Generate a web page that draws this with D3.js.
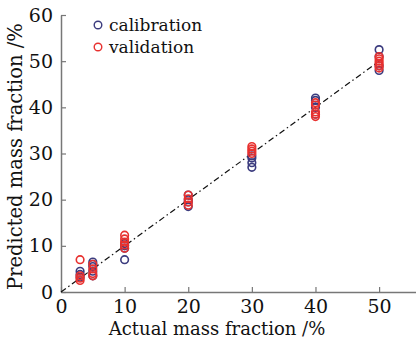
<!DOCTYPE html>
<html>
<head>
<meta charset="utf-8">
<script src="https://cdn.jsdelivr.net/npm/d3@7"></script>
<style>
  body { margin: 0; background: #fff; }
  text { font-family: "DejaVu Serif", "Liberation Serif", serif; }
</style>
</head>
<body>
<div id="chart"></div>
<script>
// Actual concentration levels and predicted values per level
const levels = [3, 5, 10, 20, 30, 40, 50];
const calibrationPred = [
    [4.5, 3.8, 3.2],
    [6.5, 6.0, 5.5, 4.5, 3.5],
    [10.5, 10.0, 9.5, 7.0],
    [21.0, 20.0, 19.5, 18.5],
    [29.5, 29.0, 28.0, 27.0],
    [42.0, 41.5, 40.0, 38.5],
    [52.5, 51.0, 49.0, 48.0]
];
const validationPred = [
    [7.0, 3.5, 3.0, 2.5],
    [6.0, 5.0, 4.0, 3.5],
    [12.3, 11.5, 10.8, 10.2, 9.5],
    [21.0, 20.2, 19.5, 18.8],
    [31.5, 31.0, 30.5, 30.0],
    [41.0, 40.5, 39.0, 38.5, 38.0],
    [51.0, 50.5, 50.0, 49.5, 49.0, 48.5]
];
const xTicks = [0, 10, 20, 30, 40, 50];
const yTicks = [0, 10, 20, 30, 40, 50, 60];
const seriesNames = ['calibration', 'validation'];
const seriesColors = ['#3b3b7e', '#e8312f'];

const W = 416, H = 343;
const margin = { top: 15, right: 0, bottom: 51, left: 61 };
const width = W - margin.left - margin.right;
const height = H - margin.top - margin.bottom;

const svg = d3.select('#chart').append('svg')
    .attr('width', W)
    .attr('height', H);
const g = svg.append('g')
    .attr('transform', `translate(${margin.left},${margin.top})`);

const x = d3.scaleLinear().domain([0, 55.8]).range([0, width]);
const y = d3.scaleLinear().domain([0, 60]).range([height, 0]);

// Axes with inward ticks
const xAxis = g.append('g')
    .attr('transform', `translate(0,${height})`)
    .call(d3.axisBottom(x).tickValues(xTicks).tickSize(-5).tickPadding(8).tickSizeOuter(0));
const yAxis = g.append('g')
    .call(d3.axisLeft(y).tickValues(yTicks).tickSize(-5).tickPadding(8).tickSizeOuter(0));

[xAxis, yAxis].forEach(a => {
    a.select('.domain').attr('stroke', '#777').attr('stroke-width', 1.5);
    a.selectAll('.tick line').attr('stroke', '#777').attr('stroke-width', 1.2);
    a.selectAll('.tick text')
        .attr('fill', '#111')
        .attr('font-size', '19px')
        .style('font-family', '"DejaVu Serif", serif');
});

// 1:1 reference line
g.append('line')
    .attr('x1', x(0)).attr('y1', y(0))
    .attr('x2', x(50)).attr('y2', y(50))
    .attr('stroke', '#111')
    .attr('stroke-width', 1.2)
    .attr('stroke-dasharray', '6,3,1.5,3');

// Points
function flatten(pred) {
    const pts = [];
    pred.forEach((vals, i) => vals.forEach(v => pts.push({ a: levels[i], p: v })));
    return pts;
}
[calibrationPred, validationPred].forEach((pred, si) => {
    g.selectAll('.pt' + si)
        .data(flatten(pred))
        .enter()
        .append('circle')
        .attr('class', 'pt' + si)
        .attr('cx', d => x(d.a))
        .attr('cy', d => y(d.p))
        .attr('r', 3.8)
        .attr('fill', 'none')
        .attr('stroke', seriesColors[si])
        .attr('stroke-width', 1.6);
});

// Legend
const legend = g.append('g').attr('transform', 'translate(37,10)');
seriesNames.forEach((name, i) => {
    const row = legend.append('g').attr('transform', `translate(0,${i * 22})`);
    row.append('circle')
        .attr('r', 3.8)
        .attr('fill', 'none')
        .attr('stroke', seriesColors[i])
        .attr('stroke-width', 1.4);
    row.append('text')
        .attr('x', 11)
        .attr('dy', '0.35em')
        .attr('font-size', '17px')
        .attr('fill', '#111')
        .text(name);
});

// Axis titles
svg.append('text')
    .attr('x', margin.left + x(25) - 3)
    .attr('y', H - 8)
    .attr('text-anchor', 'middle')
    .attr('font-size', '18px')
    .attr('fill', '#111')
    .text('Actual mass fraction /%');

svg.append('text')
    .attr('transform', `translate(22,${margin.top + height / 2 + 3}) rotate(-90)`)
    .attr('text-anchor', 'middle')
    .attr('font-size', '19.5px')
    .attr('fill', '#111')
    .text('Predicted mass fraction /%');
</script>
</body>
</html>
